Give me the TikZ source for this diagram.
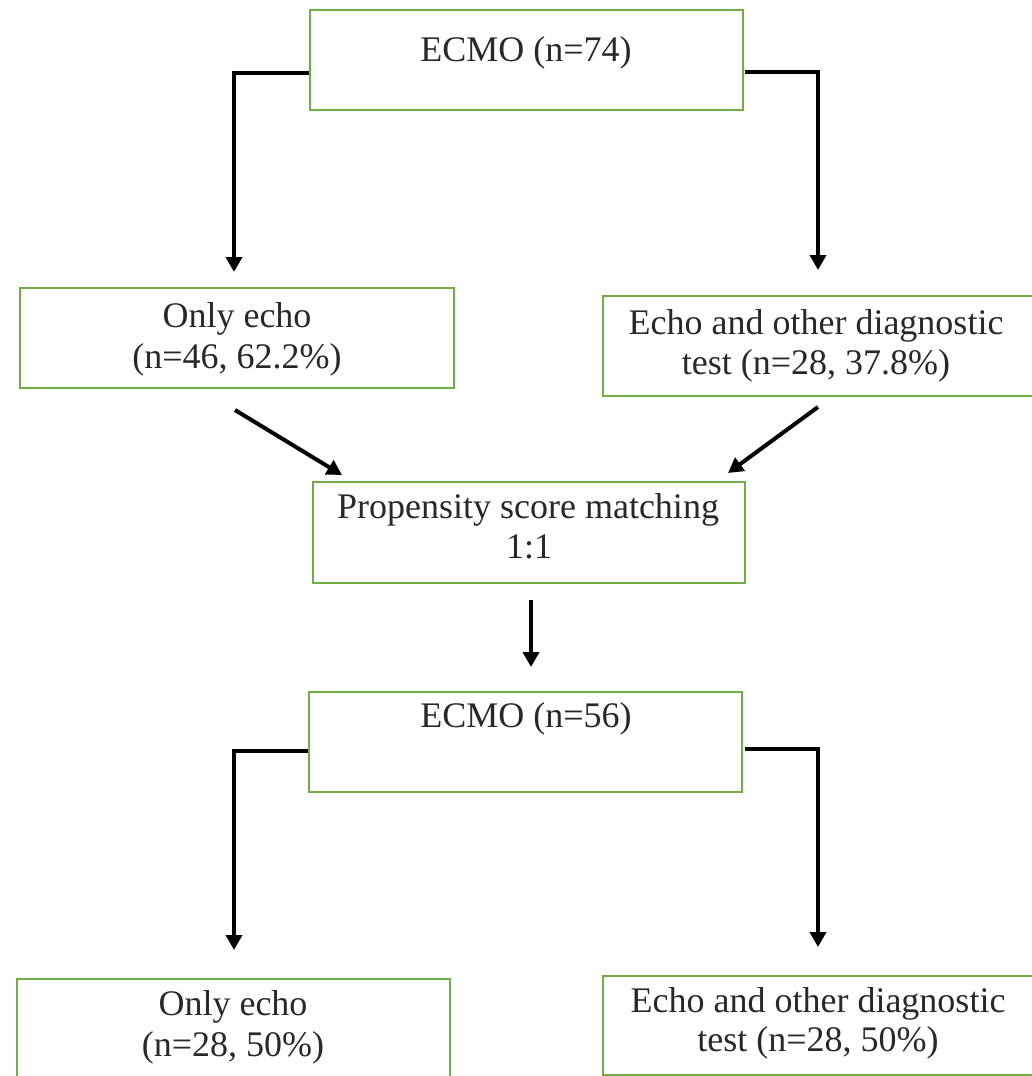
\documentclass[tikz,border=0pt]{standalone}
\usepackage{fontspec}
\setmainfont{Liberation Serif}
\usetikzlibrary{arrows.meta,calc}
\definecolor{boxgreen}{RGB}{112,173,71}
\definecolor{txtcol}{RGB}{40,40,40}
\begin{document}
\begin{tikzpicture}[x=1pt,y=-1pt,
  box/.style={draw=boxgreen,line width=1.8pt,inner sep=0pt,fill=none},
  lbl/.style={text=txtcol,font=\fontsize{36}{41}\selectfont,inner sep=0pt,anchor=base},
  conn/.style={draw=black,line width=4pt,line join=miter,-{Triangle[length=15pt,width=16pt]}}]
\useasboundingbox (0,0) rectangle (1032,1076);
\clip (0,0) rectangle (1032,1076);
% boxes
\node[box,minimum width=433pt,minimum height=100pt] (ecmoA) at (526.5,60) {};
\node[box,minimum width=434pt,minimum height=100pt] (onlyA) at (237,338) {};
\node[box,minimum width=437pt,minimum height=100pt] (bothA) at (821.5,346) {};
\node[box,minimum width=432pt,minimum height=101pt] (psm) at (529,532.5) {};
\node[box,minimum width=433pt,minimum height=100pt] (ecmoB) at (525.5,742) {};
\node[box,minimum width=433pt,minimum height=106pt] (onlyB) at (233.5,1032) {};
\node[box,minimum width=437pt,minimum height=99pt] (bothB) at (821.5,1025.5) {};
% texts
\node[lbl] (tEcmoA) at (526,61) {ECMO (n=74)};
\node[lbl] (tOnlyA1) at (237,327) {Only echo};
\node[lbl] (tOnlyA2) at (237,368) {(n=46, 62.2\%)};
\node[lbl] (tBothA1) at (816,334) {Echo and other diagnostic};
\node[lbl] (tBothA2) at (816,374) {test (n=28, 37.8\%)};
\node[lbl] (tPsm1) at (528,518) {Propensity score matching};
\node[lbl] (tPsm2) at (529,558) {1:1};
\node[lbl] (tEcmoB) at (526,727) {ECMO (n=56)};
\node[lbl] (tOnlyB1) at (233,1015) {Only echo};
\node[lbl] (tOnlyB2) at (233,1056) {(n=28, 50\%)};
\node[lbl] (tBothB1) at (818,1012) {Echo and other diagnostic};
\node[lbl] (tBothB2) at (818,1051) {test (n=28, 50\%)};
% connector end points
\coordinate (aL1) at (234,272);
\coordinate (aR1) at (818,270);
\coordinate (dLs) at (235,410);
\coordinate (dLe) at (342,475);
\coordinate (dRs) at (818,407);
\coordinate (dRe) at (728,473);
\coordinate (vS) at (531,600);
\coordinate (vE) at (531,667);
\coordinate (aL2) at (234,950);
\coordinate (aR2) at (818,947);
% connectors
\draw[conn] ($(ecmoA.west)+(0,13)$) -| (aL1);
\draw[conn] ($(ecmoA.east)+(1,12)$) -| (aR1);
\draw[conn] (dLs) -- (dLe);
\draw[conn] (dRs) -- (dRe);
\draw[conn] (vS) -- (vE);
\draw[conn] ($(ecmoB.west)+(0,9)$) -| (aL2);
\draw[conn] ($(ecmoB.east)+(2,7)$) -| (aR2);
\end{tikzpicture}
\end{document}
